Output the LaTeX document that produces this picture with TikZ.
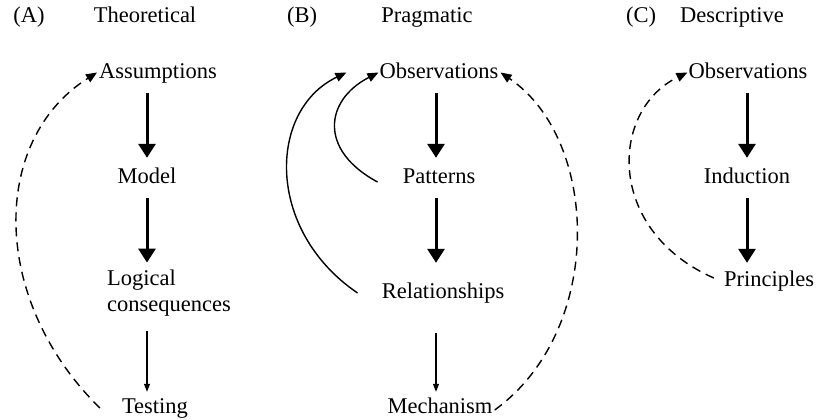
\documentclass[tikz,border=0pt]{standalone}
\usepackage{fontspec}
\setmainfont{Liberation Serif}
\usetikzlibrary{arrows.meta}
\begin{document}
\begin{tikzpicture}[x=1pt,y=-1pt,
  txt/.style={inner sep=0pt,anchor=base,font=\fontsize{22.5}{27}\selectfont,text height=16pt,text depth=5pt},
  bigarrow/.style={line width=3pt,-{Triangle[width=17pt,length=14pt]}},
  thinarrow/.style={line width=1.1pt,-{Triangle[width=6pt,length=8pt]}},
  curvearrow/.style={line width=1.4pt,-{Triangle[width=9pt,length=11pt]}},
  dasharrow/.style={line width=1.4pt,dash pattern=on 9pt off 6pt,-{Triangle[width=9pt,length=11pt]}}]
\useasboundingbox (0,0) rectangle (816,420);
% Panel A
\node[txt] (labA) at (29,23) {(A)};
\node[txt] (titA) at (145,23) {Theoretical};
\node[txt] (assA) at (158,78) {Assumptions};
\node[txt] (modA) at (147,183) {Model};
\node[inner sep=0pt,anchor=west,align=left,font=\fontsize{22.5}{26}\selectfont] (logA) at (107,293) {Logical\\consequences};
\node[txt] (tesA) at (155,413) {Testing};
\draw[bigarrow,shorten <=10pt,shorten >=9pt] (modA.north |- assA.south) -- (modA.north);
\draw[bigarrow,shorten <=10pt,shorten >=7pt] (modA.south) -- (modA.south |- logA.north);
\draw[thinarrow,shorten <=15pt,shorten >=5pt] (modA.south |- logA.south) -- (modA.south |- tesA.north);
\draw[dasharrow] ([shift={(-22,-5)}]tesA.base west) .. controls (-10,300) and (-10,140) .. ([xshift=-2pt]assA.west);
% Panel B
\node[txt] (labB) at (302,23) {(B)};
\node[txt] (titB) at (427,23) {Pragmatic};
\node[txt] (obsB) at (439,78) {Observations};
\node[txt] (patB) at (439,183) {Patterns};
\node[txt] (relB) at (443,298) {Relationships};
\node[txt] (mecB) at (440,413) {Mechanism};
\draw[bigarrow,shorten <=10pt,shorten >=9pt] (436,0 |- obsB.south) -- (436,0 |- patB.north);
\draw[bigarrow,shorten <=10pt,shorten >=19pt] (436,0 |- patB.south) -- (436,0 |- relB.north);
\draw[thinarrow,shorten <=30pt,shorten >=5pt] (436,0 |- relB.south) -- (436,0 |- mecB.north);
\draw[curvearrow] ([shift={(-25,-1)}]patB.base west) .. controls (318,150) and (325,100) .. ([xshift=-1pt]obsB.west);
\draw[curvearrow] ([shift={(-24,-5)}]relB.base west) .. controls (265,230) and (268,110) .. ([xshift=-33pt]obsB.west);
\draw[dasharrow] ([shift={(2,-3)}]mecB.base east) .. controls (605,330) and (600,140) .. ([xshift=2pt]obsB.east);
% Panel C
\node[txt] (labC) at (641,23) {(C)};
\node[txt] (titC) at (732,23) {Descriptive};
\node[txt] (obsC) at (748,78) {Observations};
\node[txt] (indC) at (747,183) {Induction};
\node[txt] (priC) at (769,286) {Principles};
\draw[bigarrow,shorten <=10pt,shorten >=9pt] (indC.north |- obsC.south) -- (indC.north);
\draw[bigarrow,shorten <=10pt,shorten >=7pt] (indC.south) -- (indC.south |- priC.north);
\draw[dasharrow] ([shift={(-10,-8)}]priC.base west) .. controls (605,230) and (610,110) .. ([xshift=-1pt]obsC.west);
\end{tikzpicture}
\end{document}
